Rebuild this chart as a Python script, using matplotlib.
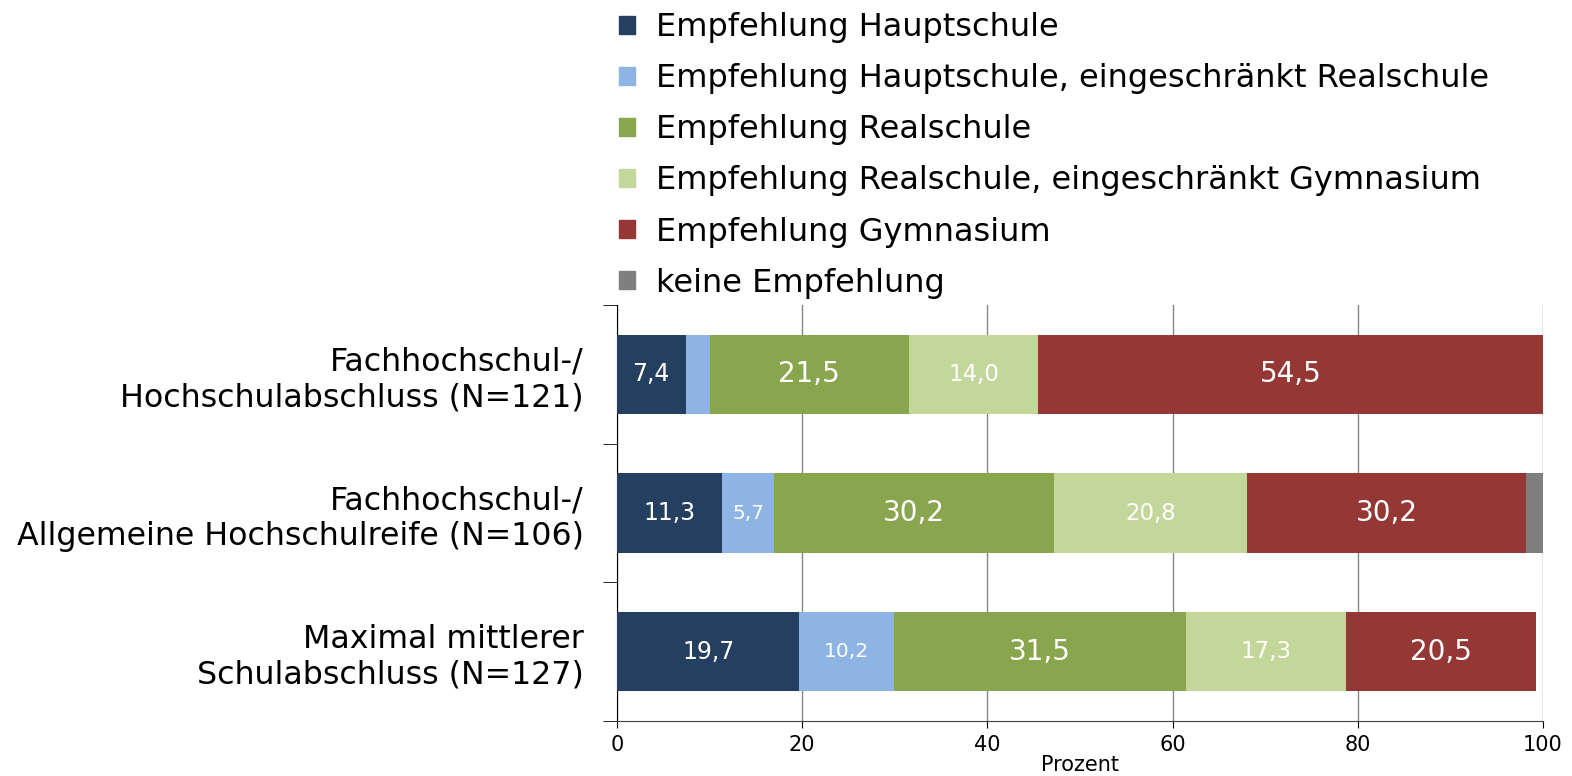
import numpy as np
import matplotlib
matplotlib.use("Agg")
import matplotlib.pyplot as plt
from matplotlib.patches import Patch

plt.rcParams['font.family'] = ['DejaVu Sans']

# Daten
kategorien = ["Fachhochschul-/\nHochschulabschluss (N=121)",
              "Fachhochschul-/\nAllgemeine Hochschulreife (N=106)",
              "Maximal mittlerer\nSchulabschluss (N=127)"]
serien = ["Empfehlung Hauptschule",
          "Empfehlung Hauptschule, eingeschränkt Realschule",
          "Empfehlung Realschule",
          "Empfehlung Realschule, eingeschränkt Gymnasium",
          "Empfehlung Gymnasium",
          "keine Empfehlung"]
hauptschule = [7.4, 11.3, 19.7]
haupt_real = [2.6, 5.7, 10.2]
realschule = [21.5, 30.2, 31.5]
real_gym = [14.0, 20.8, 17.3]
gymnasium = [54.5, 30.2, 20.5]
keine = [0.0, 1.8, 0.0]
werte = [hauptschule, haupt_real, realschule, real_gym, gymnasium, keine]

farben = ['#253F60', '#8EB4E3', '#89A54E', '#C4D79B', '#953735', '#7F7F7F']
label_groesse = [17, 14.5, 20, 16.5, 20, None]

fig = plt.figure(figsize=(15.72, 7.76), dpi=100)
ax = fig.add_axes([617/1572, 1 - 721/776, (1543-617)/1572, (721-305)/776])

y = np.arange(len(kategorien))[::-1]
links = np.zeros(len(kategorien))
for i, (vals, farbe) in enumerate(zip(werte, farben)):
    vals = np.array(vals)
    bars = ax.barh(y, vals, left=links, height=0.57, color=farbe, label=serien[i], zorder=3)
    if label_groesse[i] is not None:
        for b, v in zip(bars, vals):
            if v >= 5:
                ax.text(b.get_x() + b.get_width()/2, b.get_y() + b.get_height()/2,
                        ('%.1f' % v).replace('.', ','), color='white',
                        ha='center', va='center', fontsize=label_groesse[i], zorder=4)
    links = links + vals

ax.set_xlim(0, 100)
ax.set_ylim(-0.5, 2.5)
ax.set_xticks([0, 20, 40, 60, 80, 100])
ax.tick_params(axis='x', labelsize=15, length=5, direction='out', pad=5)
ax.set_xlabel('Prozent', fontsize=15, labelpad=0)

ax.set_yticks(y)
ax.set_yticklabels(kategorien, fontsize=22.8)
ax.tick_params(axis='y', which='major', length=0, pad=24)
ax.set_yticks([-0.5, 0.5, 1.5, 2.5], minor=True)
ax.tick_params(axis='y', which='minor', length=10, direction='out')

ax.grid(axis='x', color='#868686', linewidth=1, zorder=0)
ax.set_axisbelow(True)
ax.spines['top'].set_visible(False)
ax.spines['right'].set_visible(False)
ax.spines['bottom'].set_color('#404040')

handles = [Patch(color=f) for f in farben]
fig.legend(handles, serien, loc='upper left', bbox_to_anchor=(619/1572, 1 - 12/776),
           frameon=False, fontsize=23, handlelength=0.5, handleheight=0.5,
           handletextpad=0.66, labelspacing=0.63, borderpad=0, borderaxespad=0)

fig.savefig('out.png', dpi=100)
